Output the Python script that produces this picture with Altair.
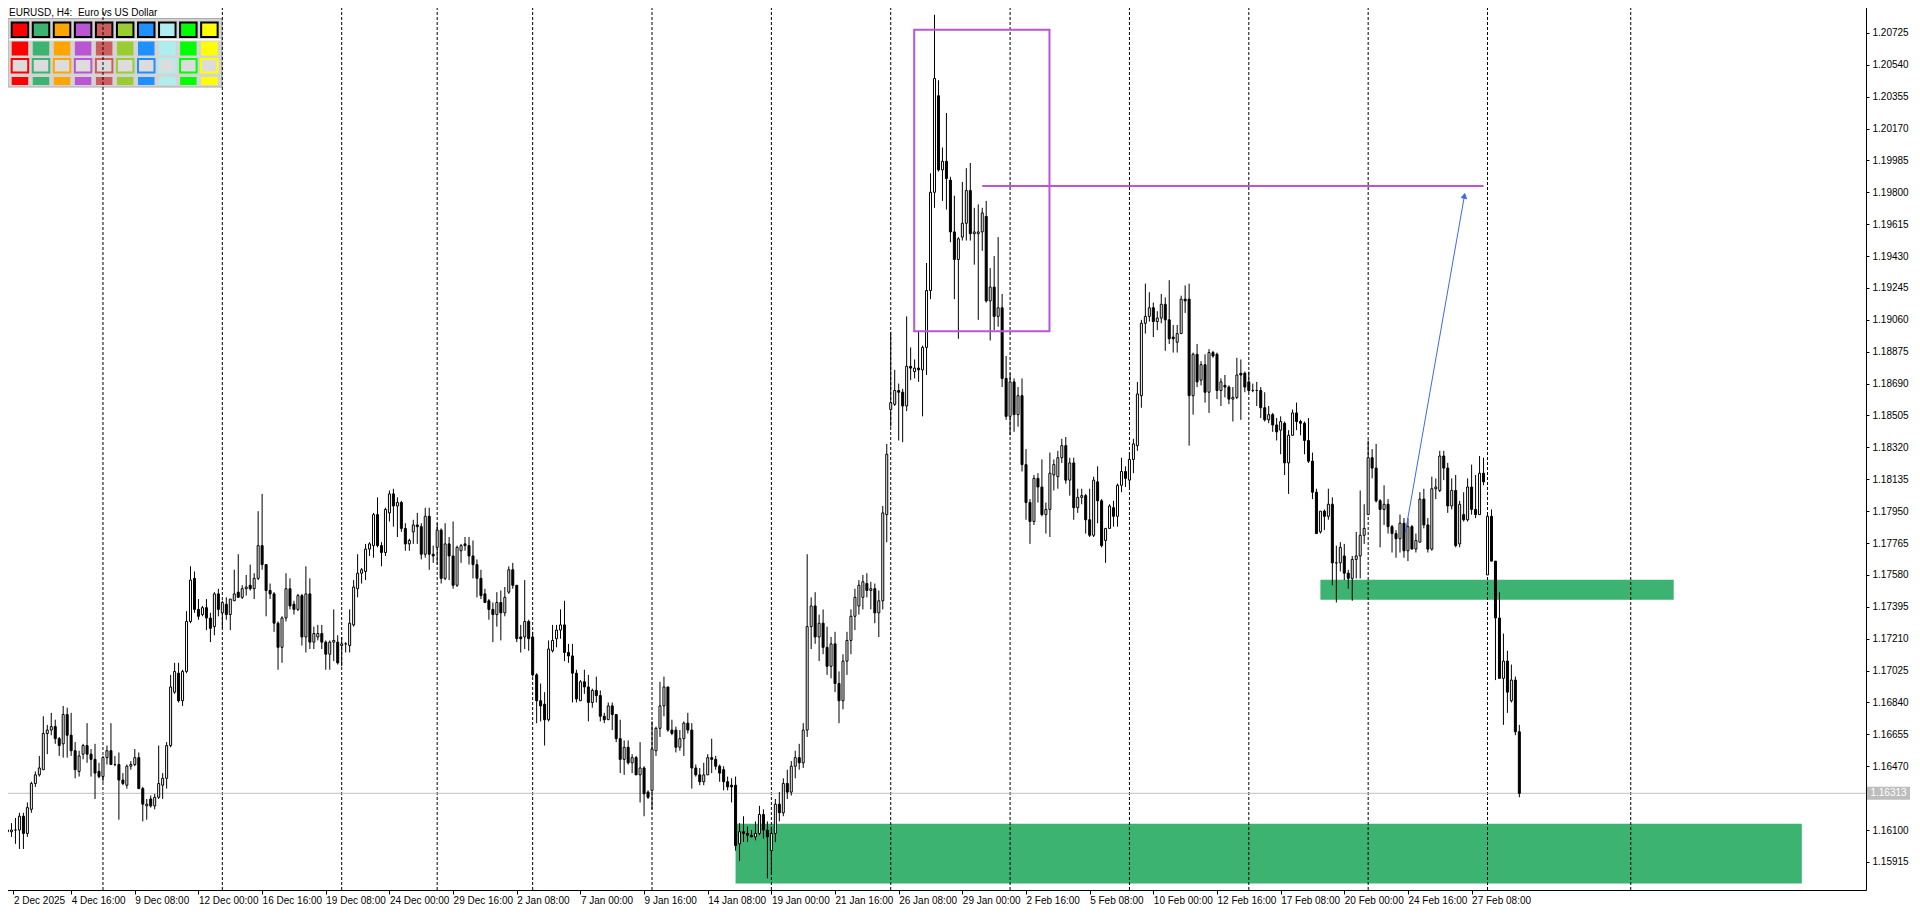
import json
import altair as alt
import pandas as pd

# ---------------- data (EURUSD H4, bar 0 = 2 Dec 2025 00:00) ----------------
opens = [
1.1609,1.1609,1.1610,1.1610,1.1618,1.1608,1.1622,1.1637,1.1642,1.1645,
1.1666,1.1668,1.1670,1.1663,1.1660,1.1677,1.1665,1.1656,1.1644,1.1654,
1.1659,1.1654,1.1651,1.1644,1.1641,1.1652,1.1656,1.1648,1.1648,1.1639,
1.1636,1.1647,1.1648,1.1652,1.1634,1.1624,1.1628,1.1624,1.1629,1.1636,
1.1640,1.1659,1.1690,1.1701,1.1685,1.1702,1.1731,1.1756,1.1738,1.1735,
1.1739,1.1733,1.1728,1.1747,1.1736,1.1741,1.1735,1.1743,1.1748,1.1745,
1.1750,1.1752,1.1750,1.1756,1.1775,1.1764,1.1749,1.1747,1.1730,1.1716,
1.1733,1.1750,1.1741,1.1738,1.1746,1.1722,1.1747,1.1719,1.1722,1.1724,
1.1719,1.1712,1.1719,1.1719,1.1717,1.1718,1.1717,1.1729,1.1750,1.1759,
1.1760,1.1773,1.1775,1.1793,1.1775,1.1771,1.1794,1.1805,1.1798,1.1800,
1.1785,1.1776,1.1783,1.1787,1.1786,1.1770,1.1792,1.1770,1.1774,1.1784,
1.1756,1.1776,1.1769,1.1752,1.1772,1.1776,1.1775,1.1769,1.1764,1.1756,
1.1747,1.1743,1.1738,1.1735,1.1742,1.1736,1.1748,1.1761,1.1752,1.1722,
1.1722,1.1731,1.1722,1.1700,1.1685,1.1683,1.1674,1.1714,1.1721,1.1726,
1.1729,1.1713,1.1711,1.1701,1.1685,1.1696,1.1693,1.1684,1.1691,1.1688,
1.1676,1.1674,1.1682,1.1677,1.1663,1.1651,1.1658,1.1649,1.1652,1.1642,
1.1646,1.1632,1.1633,1.1656,1.1669,1.1682,1.1693,1.1668,1.1668,1.1658,
1.1663,1.1672,1.1668,1.1646,1.1642,1.1638,1.1642,1.1652,1.1651,1.1647,
1.1645,1.1638,1.1636,1.1636,1.1602,1.1609,1.1608,1.1607,1.1606,1.1608,
1.1619,1.1610,1.1598,1.1608,1.1625,1.1620,1.1637,1.1632,1.1647,1.1652,
1.1649,1.1668,1.1728,1.1740,1.1722,1.1730,1.1716,1.1705,1.1718,1.1695,
1.1685,1.1708,1.1720,1.1734,1.1740,1.1745,1.1753,1.1749,1.1750,1.1736,
1.1743,1.1793,1.1854,1.1857,1.1865,1.1864,1.1856,1.1879,1.1876,1.1878,
1.1877,1.1890,1.1923,1.1980,1.2036,1.1993,1.1998,1.1987,1.1957,1.1941,
1.1954,1.1962,1.1981,1.1956,1.1956,1.1957,1.1966,1.1917,1.1925,1.1908,
1.1913,1.1872,1.1850,1.1870,1.1851,1.1862,1.1822,1.1800,1.1789,1.1814,
1.1809,1.1793,1.1796,1.1816,1.1815,1.1826,1.1833,1.1813,1.1823,1.1797,
1.1803,1.1804,1.1790,1.1781,1.1812,1.1801,1.1778,1.1785,1.1797,1.1792,
1.1810,1.1818,1.1813,1.1825,1.1833,1.1862,1.1904,1.1908,1.1913,1.1905,
1.1907,1.1915,1.1906,1.1896,1.1893,1.1898,1.1918,1.1918,1.1862,1.1886,
1.1871,1.1880,1.1864,1.1887,1.1886,1.1865,1.1868,1.1867,1.1860,1.1861,
1.1875,1.1875,1.1870,1.1865,1.1865,1.1865,1.1855,1.1848,1.1851,1.1845,
1.1842,1.1846,1.1823,1.1839,1.1852,1.1847,1.1846,1.1836,1.1824,1.1806,
1.1783,1.1795,1.1792,1.1799,1.1765,1.1765,1.1769,1.1759,1.1756,1.1767,
1.1769,1.1781,1.1793,1.1826,1.1820,1.1801,1.1796,1.1799,1.1786,1.1782,
1.1779,1.1788,1.1772,1.1786,1.1773,1.1777,1.1802,1.1787,1.1773,1.1808,
1.1807,1.1827,1.1820,1.1798,1.1807,1.1776,1.1793,1.1790,1.1809,1.1796,
1.1793,1.1817,1.1758,1.1792,1.1766,1.1733,1.1698,1.1708,1.1685,1.1697,1.1667]

highs = [
1.1612,1.1614,1.1617,1.1620,1.1620,1.1626,1.1638,1.1644,1.1653,1.1676,
1.1671,1.1678,1.1674,1.1664,1.1682,1.1681,1.1678,1.1661,1.1656,1.1660,
1.1672,1.1657,1.1660,1.1649,1.1653,1.1659,1.1672,1.1653,1.1655,1.1643,
1.1648,1.1650,1.1657,1.1655,1.1635,1.1628,1.1630,1.1631,1.1659,1.1643,
1.1661,1.1700,1.1707,1.1707,1.1703,1.1737,1.1763,1.1760,1.1744,1.1740,
1.1744,1.1736,1.1748,1.1750,1.1743,1.1745,1.1744,1.1761,1.1770,1.1752,
1.1758,1.1764,1.1759,1.1795,1.1805,1.1764,1.1753,1.1748,1.1731,1.1734,
1.1759,1.1756,1.1743,1.1747,1.1747,1.1763,1.1756,1.1728,1.1729,1.1729,
1.1720,1.1720,1.1738,1.1723,1.1722,1.1719,1.1738,1.1755,1.1770,1.1762,
1.1776,1.1777,1.1794,1.1803,1.1777,1.1797,1.1807,1.1808,1.1803,1.1801,
1.1788,1.1779,1.1790,1.1794,1.1788,1.1797,1.1797,1.1775,1.1788,1.1785,
1.1788,1.1780,1.1789,1.1775,1.1776,1.1780,1.1780,1.1778,1.1767,1.1761,
1.1750,1.1744,1.1742,1.1748,1.1749,1.1751,1.1763,1.1765,1.1752,1.1729,
1.1755,1.1732,1.1725,1.1701,1.1695,1.1690,1.1720,1.1729,1.1729,1.1738,
1.1743,1.1718,1.1718,1.1703,1.1697,1.1703,1.1700,1.1692,1.1699,1.1691,
1.1678,1.1684,1.1684,1.1677,1.1674,1.1662,1.1662,1.1654,1.1653,1.1661,
1.1647,1.1633,1.1673,1.1670,1.1696,1.1699,1.1693,1.1674,1.1670,1.1668,
1.1673,1.1678,1.1672,1.1648,1.1646,1.1649,1.1654,1.1663,1.1653,1.1648,
1.1647,1.1641,1.1640,1.1641,1.1614,1.1618,1.1612,1.1610,1.1615,1.1624,
1.1622,1.1615,1.1612,1.1628,1.1632,1.1640,1.1645,1.1650,1.1656,1.1660,
1.1672,1.1770,1.1745,1.1748,1.1735,1.1738,1.1728,1.1722,1.1725,1.1702,
1.1712,1.1725,1.1738,1.1750,1.1755,1.1758,1.1759,1.1754,1.1753,1.1749,
1.1798,1.1834,1.1899,1.1877,1.1869,1.1866,1.1908,1.1890,1.1883,1.1899,
1.1891,1.1939,1.1991,1.2083,1.2045,1.2006,1.2026,1.1989,1.1978,1.1954,
1.1986,1.1994,1.1997,1.1971,1.1973,1.1971,1.1975,1.1936,1.1943,1.1954,
1.1921,1.1885,1.1875,1.1872,1.1867,1.1872,1.1831,1.1802,1.1816,1.1817,
1.1825,1.1800,1.1829,1.1825,1.1830,1.1837,1.1838,1.1826,1.1826,1.1808,
1.1808,1.1805,1.1808,1.1815,1.1821,1.1802,1.1785,1.1799,1.1801,1.1811,
1.1826,1.1821,1.1829,1.1837,1.1870,1.1906,1.1927,1.1922,1.1916,1.1911,
1.1921,1.1919,1.1929,1.1903,1.1903,1.1920,1.1926,1.1927,1.1887,1.1892,
1.1882,1.1886,1.1889,1.1888,1.1887,1.1872,1.1874,1.1868,1.1867,1.1884,
1.1883,1.1876,1.1876,1.1869,1.1870,1.1867,1.1864,1.1856,1.1852,1.1849,
1.1850,1.1847,1.1842,1.1854,1.1858,1.1848,1.1847,1.1849,1.1829,1.1808,
1.1795,1.1796,1.1808,1.1803,1.1775,1.1777,1.1776,1.1761,1.1769,1.1783,
1.1807,1.1799,1.1836,1.1831,1.1834,1.1802,1.1810,1.1802,1.1787,1.1784,
1.1793,1.1791,1.1791,1.1787,1.1782,1.1806,1.1808,1.1791,1.1815,1.1814,
1.1830,1.1830,1.1823,1.1814,1.1816,1.1801,1.1806,1.1814,1.1822,1.1816,
1.1827,1.1826,1.1794,1.1796,1.1766,1.1748,1.1724,1.1714,1.1706,1.1699,1.1671]

lows = [
1.1606,1.1606,1.1602,1.1599,1.1599,1.1606,1.1620,1.1635,1.1641,1.1645,
1.1654,1.1665,1.1660,1.1653,1.1652,1.1652,1.1653,1.1640,1.1641,1.1651,
1.1649,1.1641,1.1628,1.1640,1.1638,1.1648,1.1648,1.1647,1.1616,1.1636,
1.1634,1.1645,1.1647,1.1634,1.1615,1.1616,1.1623,1.1622,1.1628,1.1628,
1.1634,1.1658,1.1689,1.1684,1.1682,1.1701,1.1730,1.1736,1.1732,1.1734,
1.1726,1.1719,1.1723,1.1734,1.1727,1.1732,1.1726,1.1743,1.1745,1.1744,
1.1746,1.1749,1.1744,1.1755,1.1761,1.1734,1.1744,1.1725,1.1703,1.1707,
1.1731,1.1738,1.1735,1.1737,1.1717,1.1713,1.1715,1.1715,1.1720,1.1715,
1.1703,1.1703,1.1708,1.1706,1.1705,1.1713,1.1713,1.1728,1.1745,1.1753,
1.1755,1.1769,1.1768,1.1774,1.1763,1.1769,1.1789,1.1786,1.1780,1.1783,
1.1772,1.1772,1.1776,1.1776,1.1767,1.1768,1.1761,1.1765,1.1764,1.1753,
1.1755,1.1755,1.1750,1.1751,1.1765,1.1772,1.1764,1.1756,1.1745,1.1744,
1.1742,1.1732,1.1719,1.1728,1.1720,1.1734,1.1747,1.1750,1.1719,1.1713,
1.1715,1.1714,1.1699,1.1672,1.1673,1.1659,1.1673,1.1713,1.1716,1.1721,
1.1708,1.1707,1.1684,1.1684,1.1685,1.1689,1.1673,1.1681,1.1684,1.1673,
1.1672,1.1674,1.1668,1.1661,1.1643,1.1642,1.1648,1.1643,1.1642,1.1626,
1.1618,1.1628,1.1622,1.1653,1.1664,1.1676,1.1667,1.1665,1.1655,1.1656,
1.1653,1.1666,1.1634,1.1641,1.1636,1.1636,1.1642,1.1643,1.1645,1.1638,
1.1633,1.1633,1.1626,1.1598,1.1592,1.1603,1.1603,1.1606,1.1604,1.1607,
1.1605,1.1582,1.1584,1.1603,1.1615,1.1618,1.1628,1.1630,1.1640,1.1645,
1.1646,1.1664,1.1715,1.1718,1.1708,1.1712,1.1700,1.1698,1.1690,1.1672,
1.1680,1.1700,1.1712,1.1726,1.1735,1.1738,1.1745,1.1738,1.1730,1.1722,
1.1738,1.1777,1.1844,1.1856,1.1836,1.1835,1.1853,1.1871,1.1872,1.1870,
1.1850,1.1874,1.1918,1.1971,1.1992,1.1975,1.1970,1.1951,1.1918,1.1895,
1.1952,1.1952,1.1952,1.1938,1.1906,1.1946,1.1916,1.1894,1.1900,1.1902,
1.1867,1.1848,1.1839,1.1841,1.1844,1.1818,1.1790,1.1776,1.1787,1.1800,
1.1792,1.1782,1.1780,1.1807,1.1808,1.1823,1.1811,1.1804,1.1790,1.1794,
1.1799,1.1782,1.1780,1.1780,1.1788,1.1774,1.1765,1.1785,1.1786,1.1786,
1.1806,1.1809,1.1809,1.1817,1.1830,1.1855,1.1898,1.1905,1.1896,1.1900,
1.1904,1.1888,1.1892,1.1887,1.1887,1.1898,1.1910,1.1833,1.1851,1.1867,
1.1868,1.1858,1.1852,1.1884,1.1860,1.1856,1.1861,1.1857,1.1847,1.1860,
1.1848,1.1864,1.1864,1.1864,1.1856,1.1849,1.1847,1.1846,1.1841,1.1836,
1.1828,1.1816,1.1805,1.1839,1.1842,1.1839,1.1828,1.1823,1.1802,1.1782,
1.1782,1.1784,1.1790,1.1752,1.1742,1.1760,1.1755,1.1750,1.1743,1.1756,
1.1756,1.1776,1.1793,1.1814,1.1800,1.1774,1.1787,1.1782,1.1771,1.1768,
1.1771,1.1768,1.1766,1.1773,1.1771,1.1777,1.1785,1.1771,1.1772,1.1802,
1.1806,1.1813,1.1794,1.1796,1.1774,1.1774,1.1789,1.1789,1.1793,1.1791,
1.1793,1.1810,1.1758,1.1766,1.1697,1.1698,1.1671,1.1678,1.1684,1.1665,1.1629]

closes = [
1.1610,1.1610,1.1610,1.1618,1.1608,1.1623,1.1637,1.1642,1.1646,1.1666,
1.1668,1.1670,1.1663,1.1659,1.1677,1.1665,1.1656,1.1645,1.1653,1.1659,
1.1654,1.1651,1.1643,1.1641,1.1652,1.1656,1.1648,1.1648,1.1639,1.1637,
1.1647,1.1648,1.1652,1.1634,1.1625,1.1625,1.1624,1.1629,1.1637,1.1640,
1.1659,1.1693,1.1702,1.1685,1.1702,1.1731,1.1755,1.1738,1.1734,1.1739,
1.1733,1.1727,1.1747,1.1738,1.1742,1.1735,1.1744,1.1747,1.1745,1.1750,
1.1751,1.1750,1.1756,1.1775,1.1764,1.1749,1.1747,1.1730,1.1716,1.1733,
1.1750,1.1740,1.1738,1.1746,1.1722,1.1747,1.1719,1.1724,1.1724,1.1719,
1.1712,1.1719,1.1720,1.1707,1.1718,1.1718,1.1730,1.1751,1.1759,1.1761,
1.1773,1.1776,1.1793,1.1775,1.1771,1.1796,1.1805,1.1798,1.1800,1.1785,
1.1776,1.1778,1.1787,1.1786,1.1770,1.1792,1.1770,1.1769,1.1784,1.1756,
1.1776,1.1769,1.1752,1.1774,1.1775,1.1775,1.1769,1.1764,1.1756,1.1746,
1.1742,1.1738,1.1735,1.1742,1.1736,1.1745,1.1761,1.1752,1.1721,1.1721,
1.1731,1.1721,1.1700,1.1685,1.1682,1.1674,1.1715,1.1720,1.1726,1.1729,
1.1713,1.1711,1.1701,1.1686,1.1696,1.1693,1.1684,1.1691,1.1688,1.1676,
1.1674,1.1682,1.1677,1.1663,1.1651,1.1658,1.1649,1.1652,1.1642,1.1646,
1.1631,1.1629,1.1657,1.1669,1.1682,1.1693,1.1668,1.1666,1.1658,1.1663,
1.1672,1.1668,1.1646,1.1642,1.1638,1.1642,1.1652,1.1651,1.1647,1.1643,
1.1638,1.1635,1.1635,1.1601,1.1609,1.1608,1.1607,1.1606,1.1608,1.1619,
1.1610,1.1606,1.1608,1.1625,1.1620,1.1637,1.1632,1.1647,1.1652,1.1649,
1.1668,1.1728,1.1740,1.1722,1.1730,1.1716,1.1705,1.1718,1.1695,1.1685,
1.1708,1.1720,1.1734,1.1745,1.1752,1.1754,1.1749,1.1750,1.1736,1.1743,
1.1794,1.1828,1.1858,1.1865,1.1864,1.1856,1.1879,1.1878,1.1878,1.1877,
1.1890,1.1923,1.1980,1.2046,1.1993,1.1998,1.1988,1.1957,1.1941,1.1953,
1.1962,1.1981,1.1956,1.1957,1.1957,1.1968,1.1917,1.1925,1.1908,1.1913,
1.1872,1.1850,1.1870,1.1851,1.1862,1.1822,1.1800,1.1789,1.1814,1.1809,
1.1793,1.1796,1.1817,1.1822,1.1826,1.1833,1.1813,1.1823,1.1797,1.1803,
1.1804,1.1790,1.1781,1.1813,1.1801,1.1775,1.1785,1.1798,1.1792,1.1810,
1.1818,1.1814,1.1825,1.1834,1.1863,1.1904,1.1908,1.1913,1.1905,1.1907,
1.1915,1.1906,1.1895,1.1895,1.1898,1.1918,1.1917,1.1862,1.1886,1.1870,
1.1880,1.1864,1.1887,1.1885,1.1865,1.1870,1.1867,1.1860,1.1861,1.1874,
1.1874,1.1867,1.1865,1.1865,1.1865,1.1855,1.1848,1.1851,1.1845,1.1841,
1.1847,1.1823,1.1839,1.1852,1.1847,1.1846,1.1836,1.1824,1.1806,1.1782,
1.1795,1.1792,1.1799,1.1765,1.1765,1.1774,1.1759,1.1756,1.1767,1.1769,
1.1781,1.1785,1.1826,1.1820,1.1801,1.1796,1.1799,1.1786,1.1782,1.1779,
1.1788,1.1772,1.1786,1.1773,1.1778,1.1802,1.1787,1.1773,1.1808,1.1809,
1.1827,1.1820,1.1798,1.1807,1.1775,1.1799,1.1790,1.1809,1.1796,1.1793,
1.1817,1.1812,1.1792,1.1766,1.1733,1.1698,1.1708,1.1690,1.1697,1.1667,1.16313]

x_tick_bars = [0, 16, 32, 48, 64, 80, 96, 112, 128, 144, 160, 176, 192, 208, 224,
               240, 256, 272, 288, 304, 320, 336, 352, 368]
x_tick_labels = ["2 Dec 2025", "4 Dec 16:00", "9 Dec 08:00", "12 Dec 00:00", "16 Dec 16:00",
                 "19 Dec 08:00", "24 Dec 00:00", "29 Dec 16:00", "2 Jan 08:00", "7 Jan 00:00",
                 "9 Jan 16:00", "14 Jan 08:00", "19 Jan 00:00", "21 Jan 16:00", "26 Jan 08:00",
                 "29 Jan 00:00", "2 Feb 16:00", "5 Feb 08:00", "10 Feb 00:00", "12 Feb 16:00",
                 "17 Feb 08:00", "20 Feb 00:00", "24 Feb 16:00", "27 Feb 08:00"]
y_tick_values = [1.15915, 1.16100, 1.16285, 1.16470, 1.16655, 1.16840, 1.17025, 1.17210,
                 1.17395, 1.17580, 1.17765, 1.17950, 1.18135, 1.18320, 1.18505, 1.18690,
                 1.18875, 1.19060, 1.19245, 1.19430, 1.19615, 1.19800, 1.19985, 1.20170,
                 1.20355, 1.20540, 1.20725]
week_separator_bars = [24, 54, 84, 108, 132, 162, 192, 222, 252, 282, 312, 342, 372, 408]

zone_start = [183.0, 330.0]
zone_end = [451.0, 418.8]
zone_top = [1.16137, 1.17552]
zone_bottom = [1.15790, 1.17436]

box_x = [227.9, 261.9]
box_y = [1.20743, 1.18994]
level_x = [245.0, 371.0]
level_price = 1.19837
arrow_x = [351.3, 366.2]
arrow_y = [1.1782, 1.1978]

current_price = 1.16313
palette_colors = ["#FF0000", "#3CB371", "#FFA500", "#BA55D3", "#CD5C5C",
                  "#9ACD32", "#1E90FF", "#AFEEEE", "#00FF00", "#FFFF00"]
chart_title = "EURUSD, H4: \u00a0Euro vs US Dollar"

# ---------------- layout ----------------
FONT = "Liberation Sans, Arial, sans-serif"
FS = 10
W, H = 1864, 888
PX_PER_BAR = 4.0
x0 = -0.125
xs = alt.Scale(domain=[x0, x0 + W / PX_PER_BAR], nice=False, zero=False)
ys = alt.Scale(domain=[1.15752, 1.20904], nice=False, zero=False)

x_axis_values = [x_tick_bars[0] + 1.5] + x_tick_bars[1:]
x_axis = alt.Axis(values=x_axis_values,
                  labelExpr=json.dumps(x_tick_labels) + "[round(datum.value / 16)]",
                  labelAlign="left", labelBaseline="top", labelPadding=1, tickSize=4,
                  tickColor="black", domainColor="black", labelColor="black",
                  labelFont=FONT, labelFontSize=FS, labelOverlap=False, labelFlush=False,
                  labelBound=False, grid=False, title=None)
# the label under the current-price tag is hidden by the tag, as in the terminal
y_axis = alt.Axis(orient="right", values=y_tick_values, tickSize=3,
                  labelExpr=f"abs(datum.value - {current_price}) < 0.0004 ? '' : format(datum.value, '.5f')",
                  labelPadding=3, tickColor="black", domainColor="black", labelColor="black",
                  labelFont=FONT, labelFontSize=FS, labelOverlap=False, labelFlush=False,
                  grid=False, title=None)


def X(f):
    return alt.X(f, type="quantitative", scale=xs, axis=x_axis)


def Y(f):
    return alt.Y(f, type="quantitative", scale=ys, axis=y_axis)


bars = pd.DataFrame({"bar": list(range(len(opens))), "open": opens, "high": highs,
                     "low": lows, "close": closes})
zones = pd.DataFrame({"s": zone_start, "e": zone_end, "t": zone_top, "b": zone_bottom})
weeks = pd.DataFrame({"bar": week_separator_bars})
cur = pd.DataFrame({"price": [current_price], "label": [f"{current_price:.5f}"]})
box = pd.DataFrame({"x1": [box_x[0]], "x2": [box_x[1]], "y1": [box_y[0]], "y2": [box_y[1]]})
lvl = pd.DataFrame({"x1": [level_x[0]], "x2": [level_x[1]], "p": [level_price]})
arr = pd.DataFrame({"x1": [arrow_x[0]], "x2": [arrow_x[1]], "y1": [arrow_y[0]], "y2": [arrow_y[1]]})
tip = pd.DataFrame({"x": [arrow_x[1]], "y": [arrow_y[1]]})

zone_layer = alt.Chart(zones).mark_rect(color="#3CB371").encode(
    x=X("s"), x2="e", y=Y("t"), y2="b")
week_layer = alt.Chart(weeks).mark_rule(color="black", strokeDash=[3, 2], strokeWidth=1).encode(
    x=X("bar"))
price_line = alt.Chart(cur).mark_rule(color="#C0C0C0", strokeWidth=1).encode(y=Y("price"))
wicks = alt.Chart(bars).mark_rule(color="black", strokeWidth=1).encode(
    x=X("bar"), y=Y("low"), y2="high")
bodies = alt.Chart(bars).mark_bar(size=2, stroke="black", strokeWidth=1).encode(
    x=X("bar"), y=Y("open"), y2="close",
    fill=alt.condition("datum.close >= datum.open", alt.value("white"), alt.value("black")))
box_layer = alt.Chart(box).mark_rect(filled=False, color="#BA55D3", strokeWidth=2).encode(
    x=X("x1"), x2="x2", y=Y("y1"), y2="y2")
level_layer = alt.Chart(lvl).mark_rule(color="#BA55D3", strokeWidth=2).encode(
    x=X("x1"), x2="x2", y=Y("p"))
arrow_layer = alt.Chart(arr).mark_rule(color="#4169E1", strokeWidth=1).encode(
    x=X("x1"), x2="x2", y=Y("y1"), y2="y2")
tip_layer = alt.Chart(tip).mark_point(shape="triangle-up", filled=True, color="#4169E1",
                                      size=45, angle=10, opacity=1).encode(x=X("x"), y=Y("y"))
price_box = alt.Chart(cur).mark_point(shape="M-1,-0.3L1,-0.3L1,0.3L-1,0.3Z", size=43 * 43,
                                      filled=True, color="#BDBDBD", opacity=1,
                                      strokeWidth=0).encode(
    x=alt.value(W + 22.5), y=Y("price"))
price_text = alt.Chart(cur).mark_text(color="white", font=FONT, fontSize=FS, align="center",
                                      baseline="middle").encode(
    x=alt.value(W + 22.5), y=Y("price"), text="label:N")

main = alt.layer(zone_layer, week_layer, price_line, wicks, bodies, box_layer, level_layer,
                 arrow_layer, tip_layer, price_box, price_text)

# ---------------- overlay: title + colour palette panel (screen units) ----------------
sx = alt.Scale(domain=[0, W], nice=False, zero=False)
sy = alt.Scale(domain=[0, H], nice=False, zero=False, reverse=True)
one = pd.DataFrame({"t": [chart_title]})
pal = pd.DataFrame({"c": list(range(len(palette_colors))), "color": palette_colors})
pal["a"] = 9.7 + 21.05 * pal["c"]
pal["b"] = pal["a"] + 16.5


def ox(v):
    return alt.X(datum=v, type="quantitative", scale=sx, axis=None)


def oy(v):
    return alt.Y(datum=v, type="quantitative", scale=sy, axis=None)


panel = alt.Chart(one).mark_rect(fill="#D4D4D4", stroke="#AAAAAA", strokeWidth=1).encode(
    x=ox(6), x2=alt.X2(datum=220), y=oy(16.5), y2=alt.Y2(datum=85))
sep = alt.Chart(one).mark_rect(fill="white").encode(
    x=ox(7), x2=alt.X2(datum=219), y=oy(37), y2=alt.Y2(datum=38.5))


def swatch_row(y1, y2, **mk):
    return alt.Chart(pal).mark_rect(**mk).encode(
        x=alt.X("a:Q", scale=sx, axis=None), x2="b:Q", y=oy(y1), y2=alt.Y2(datum=y2))


row1 = swatch_row(20.5, 35, stroke="black", strokeWidth=2).encode(fill=alt.Fill("color:N", scale=None))
row2 = swatch_row(39.5, 53.5).encode(fill=alt.Fill("color:N", scale=None))
row3 = swatch_row(57, 70.5, fill="#DCDCDC", strokeWidth=2).encode(
    stroke=alt.Stroke("color:N", scale=None))
row4 = swatch_row(75, 83).encode(fill=alt.Fill("color:N", scale=None))
title_layer = alt.Chart(one).mark_text(align="left", baseline="alphabetic", font=FONT, fontSize=10,
                                       color="black").encode(x=ox(7), y=oy(14), text="t:N")

overlay = alt.layer(panel, sep, row1, row2, row3, row4, title_layer)

chart = alt.layer(overlay, main).resolve_scale(x="independent", y="independent").properties(
    width=W, height=H,
    autosize=alt.AutoSizeParams(type="none"),
    padding={"left": -6, "top": -6, "right": 46, "bottom": 17},
).configure_view(stroke="black", strokeWidth=1, fill="white").configure(background="white")

chart.save("out.html", embed_options={"renderer": "svg", "actions": False})
